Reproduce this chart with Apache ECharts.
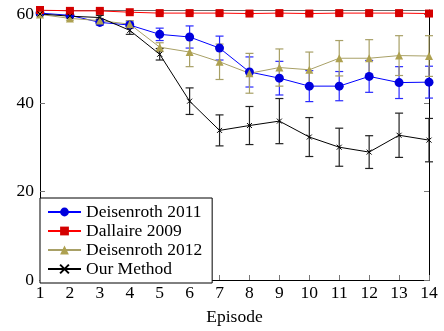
<!DOCTYPE html>
<html lang="en">
<head>
  <meta charset="UTF-8">
  <title>Episode chart</title>
  <style>
    html, body { margin: 0; padding: 0; background: #fff; }
  </style>
</head>
<body>
  <div id="main" style="width:444px;height:331px;"></div>

  <script src="https://cdn.jsdelivr.net/npm/echarts@6/dist/echarts.min.js"></script>
  <script>
    var episodes = [1, 2, 3, 4, 5, 6, 7, 8, 9, 10, 11, 12, 13, 14]
    var yTicks = [0, 20, 40, 60]

    // Deisenroth 2011
    var deis2011 = [60.3, 59.8, 58.2, 57.6, 55.5, 54.9, 52.4, 47.0, 45.6, 43.8, 43.8, 46.0, 44.6, 44.7]
    var deis2011Err = [0.3, 0.4, 0.6, 0.7, 1.4, 2.5, 2.7, 3.4, 3.8, 3.5, 3.3, 3.6, 3.6, 3.6]
    // Dallaire 2009
    var dall2009 = [61.0, 60.8, 60.8, 60.5, 60.3, 60.3, 60.3, 60.2, 60.3, 60.2, 60.3, 60.3, 60.3, 60.2]
    var dall2009Err = [0.2, 0.2, 0.2, 0.2, 0.2, 0.2, 0.2, 0.2, 0.2, 0.2, 0.2, 0.2, 0.2, 0.2]
    // Deisenroth 2012
    var deis2012 = [60.0, 59.1, 58.6, 57.8, 52.6, 51.5, 49.3, 46.7, 48.0, 47.5, 50.1, 50.1, 50.7, 50.6]
    var deis2012Err = [0.3, 0.4, 0.5, 0.8, 1.0, 3.3, 4.0, 4.5, 4.2, 4.0, 4.0, 4.2, 4.5, 4.6]
    // Our Method
    var ours = [60.1, 59.6, 59.3, 56.4, 51.0, 40.4, 33.8, 34.9, 35.9, 32.3, 30.0, 28.9, 32.7, 31.6]
    var oursErr = [0.3, 0.4, 0.5, 0.9, 1.3, 3.0, 3.5, 4.3, 5.1, 4.4, 4.3, 3.7, 5.0, 4.9]

    var serif = 'Liberation Serif'
    var fs = 17.5

    function pts(vals) {
      return episodes.map(function (x, i) { return [x, vals[i]] })
    }
    function bars(vals, errs) {
      return episodes.map(function (x, i) { return [x, vals[i] - errs[i], vals[i] + errs[i]] })
    }

    // error bars drawn through the axes
    function errSeries(name, vals, errs, color) {
      return {
        name: name,
        type: 'custom',
        silent: true,
        data: bars(vals, errs),
        encode: { x: 0, y: [1, 2] },
        renderItem: function (params, api) {
          var x = api.value(0)
          var lo = api.coord([x, api.value(1)])
          var hi = api.coord([x, api.value(2)])
          var w = 4
          var st = { stroke: color, lineWidth: 1.2 }
          return {
            type: 'group',
            children: [
              { type: 'line', shape: { x1: lo[0], y1: lo[1], x2: hi[0], y2: hi[1] }, style: st },
              { type: 'line', shape: { x1: lo[0] - w, y1: lo[1], x2: lo[0] + w, y2: lo[1] }, style: st },
              { type: 'line', shape: { x1: hi[0] - w, y1: hi[1], x2: hi[0] + w, y2: hi[1] }, style: st }
            ]
          }
        }
      }
    }

    var myChart = echarts.init(document.getElementById('main'))

    var options = {
      animation: false,
      textStyle: { fontFamily: serif },
      grid: { left: 40, right: 15, top: 10, bottom: 47, containLabel: false },
      legend: {
        orient: 'vertical',
        left: 40,
        top: 198,
        data: ['Deisenroth 2011', 'Dallaire 2009', 'Deisenroth 2012', 'Our Method'],
        backgroundColor: '#fff',
        borderColor: '#000',
        borderWidth: 1,
        borderRadius: 0,
        padding: [5, 10, 5, 7],
        itemWidth: 33,
        itemHeight: 11,
        itemGap: 1,
        textStyle: { fontFamily: serif, fontSize: fs, color: '#000' }
      },
      xAxis: [
        {
          type: 'value',
          min: 1,
          max: 14,
          interval: 1,
          name: 'Episode',
          nameLocation: 'middle',
          nameGap: 28,
          nameTextStyle: { fontFamily: serif, fontSize: fs, color: '#000' },
          axisLine: { show: true, onZero: false, lineStyle: { color: '#000', width: 1 } },
          axisTick: { inside: true, length: 5, lineStyle: { color: '#777' } },
          axisLabel: { fontFamily: serif, fontSize: fs, color: '#000', margin: 4 },
          splitLine: { show: false }
        },
        {
          type: 'value',
          position: 'top',
          min: 1,
          max: 14,
          interval: 1,
          axisLine: { show: true, onZero: false, lineStyle: { color: '#666', width: 1 } },
          axisTick: { inside: true, length: 5, lineStyle: { color: '#777' } },
          axisLabel: { show: false },
          splitLine: { show: false }
        }
      ],
      yAxis: [
        {
          type: 'value',
          min: 0,
          max: 61,
          interval: 20,
          axisLine: { show: true, onZero: false, lineStyle: { color: '#000', width: 1 } },
          axisTick: { show: true, inside: true, length: 5, lineStyle: { color: '#777' } },
          axisLabel: {
            fontFamily: serif, fontSize: fs, color: '#000', margin: 6,
            formatter: function (v) { return yTicks.indexOf(v) >= 0 ? String(v) : '' }
          },
          splitLine: { show: false }
        },
        {
          type: 'value',
          position: 'right',
          min: 0,
          max: 61,
          interval: 20,
          axisLine: { show: true, onZero: false, lineStyle: { color: '#000', width: 1 } },
          axisTick: { show: true, inside: true, length: 5, lineStyle: { color: '#777' } },
          axisLabel: { show: false },
          splitLine: { show: false }
        }
      ],
      series: [
        errSeries('err2011', deis2011, deis2011Err, '#2a2aff'),
        {
          name: 'Deisenroth 2011',
          type: 'line',
          data: pts(deis2011),
          symbol: 'circle',
          symbolSize: 9,
          lineStyle: { color: '#0000ff', width: 1 },
          itemStyle: { color: '#0000dd' }
        },
        errSeries('err2009', dall2009, dall2009Err, '#ff0000'),
        {
          name: 'Dallaire 2009',
          type: 'line',
          data: pts(dall2009),
          symbol: 'rect',
          symbolSize: 8,
          lineStyle: { color: '#ff0000', width: 1 },
          itemStyle: { color: '#d40000' }
        },
        errSeries('err2012', deis2012, deis2012Err, '#a8a066'),
        {
          name: 'Deisenroth 2012',
          type: 'line',
          data: pts(deis2012),
          symbol: 'triangle',
          symbolSize: 8,
          lineStyle: { color: '#a8a066', width: 1 },
          itemStyle: { color: '#aea150' }
        },
        errSeries('errOurs', ours, oursErr, '#222'),
        {
          name: 'Our Method',
          type: 'line',
          data: pts(ours),
          symbol: 'path://M0,0L10,10M10,0L0,10',
          symbolSize: 5,
          lineStyle: { color: '#000', width: 1 },
          itemStyle: { color: '#000', borderColor: '#000', borderWidth: 1 }
        }
      ]
    }
    myChart.setOption(options)
  </script>
</body>
</html>
